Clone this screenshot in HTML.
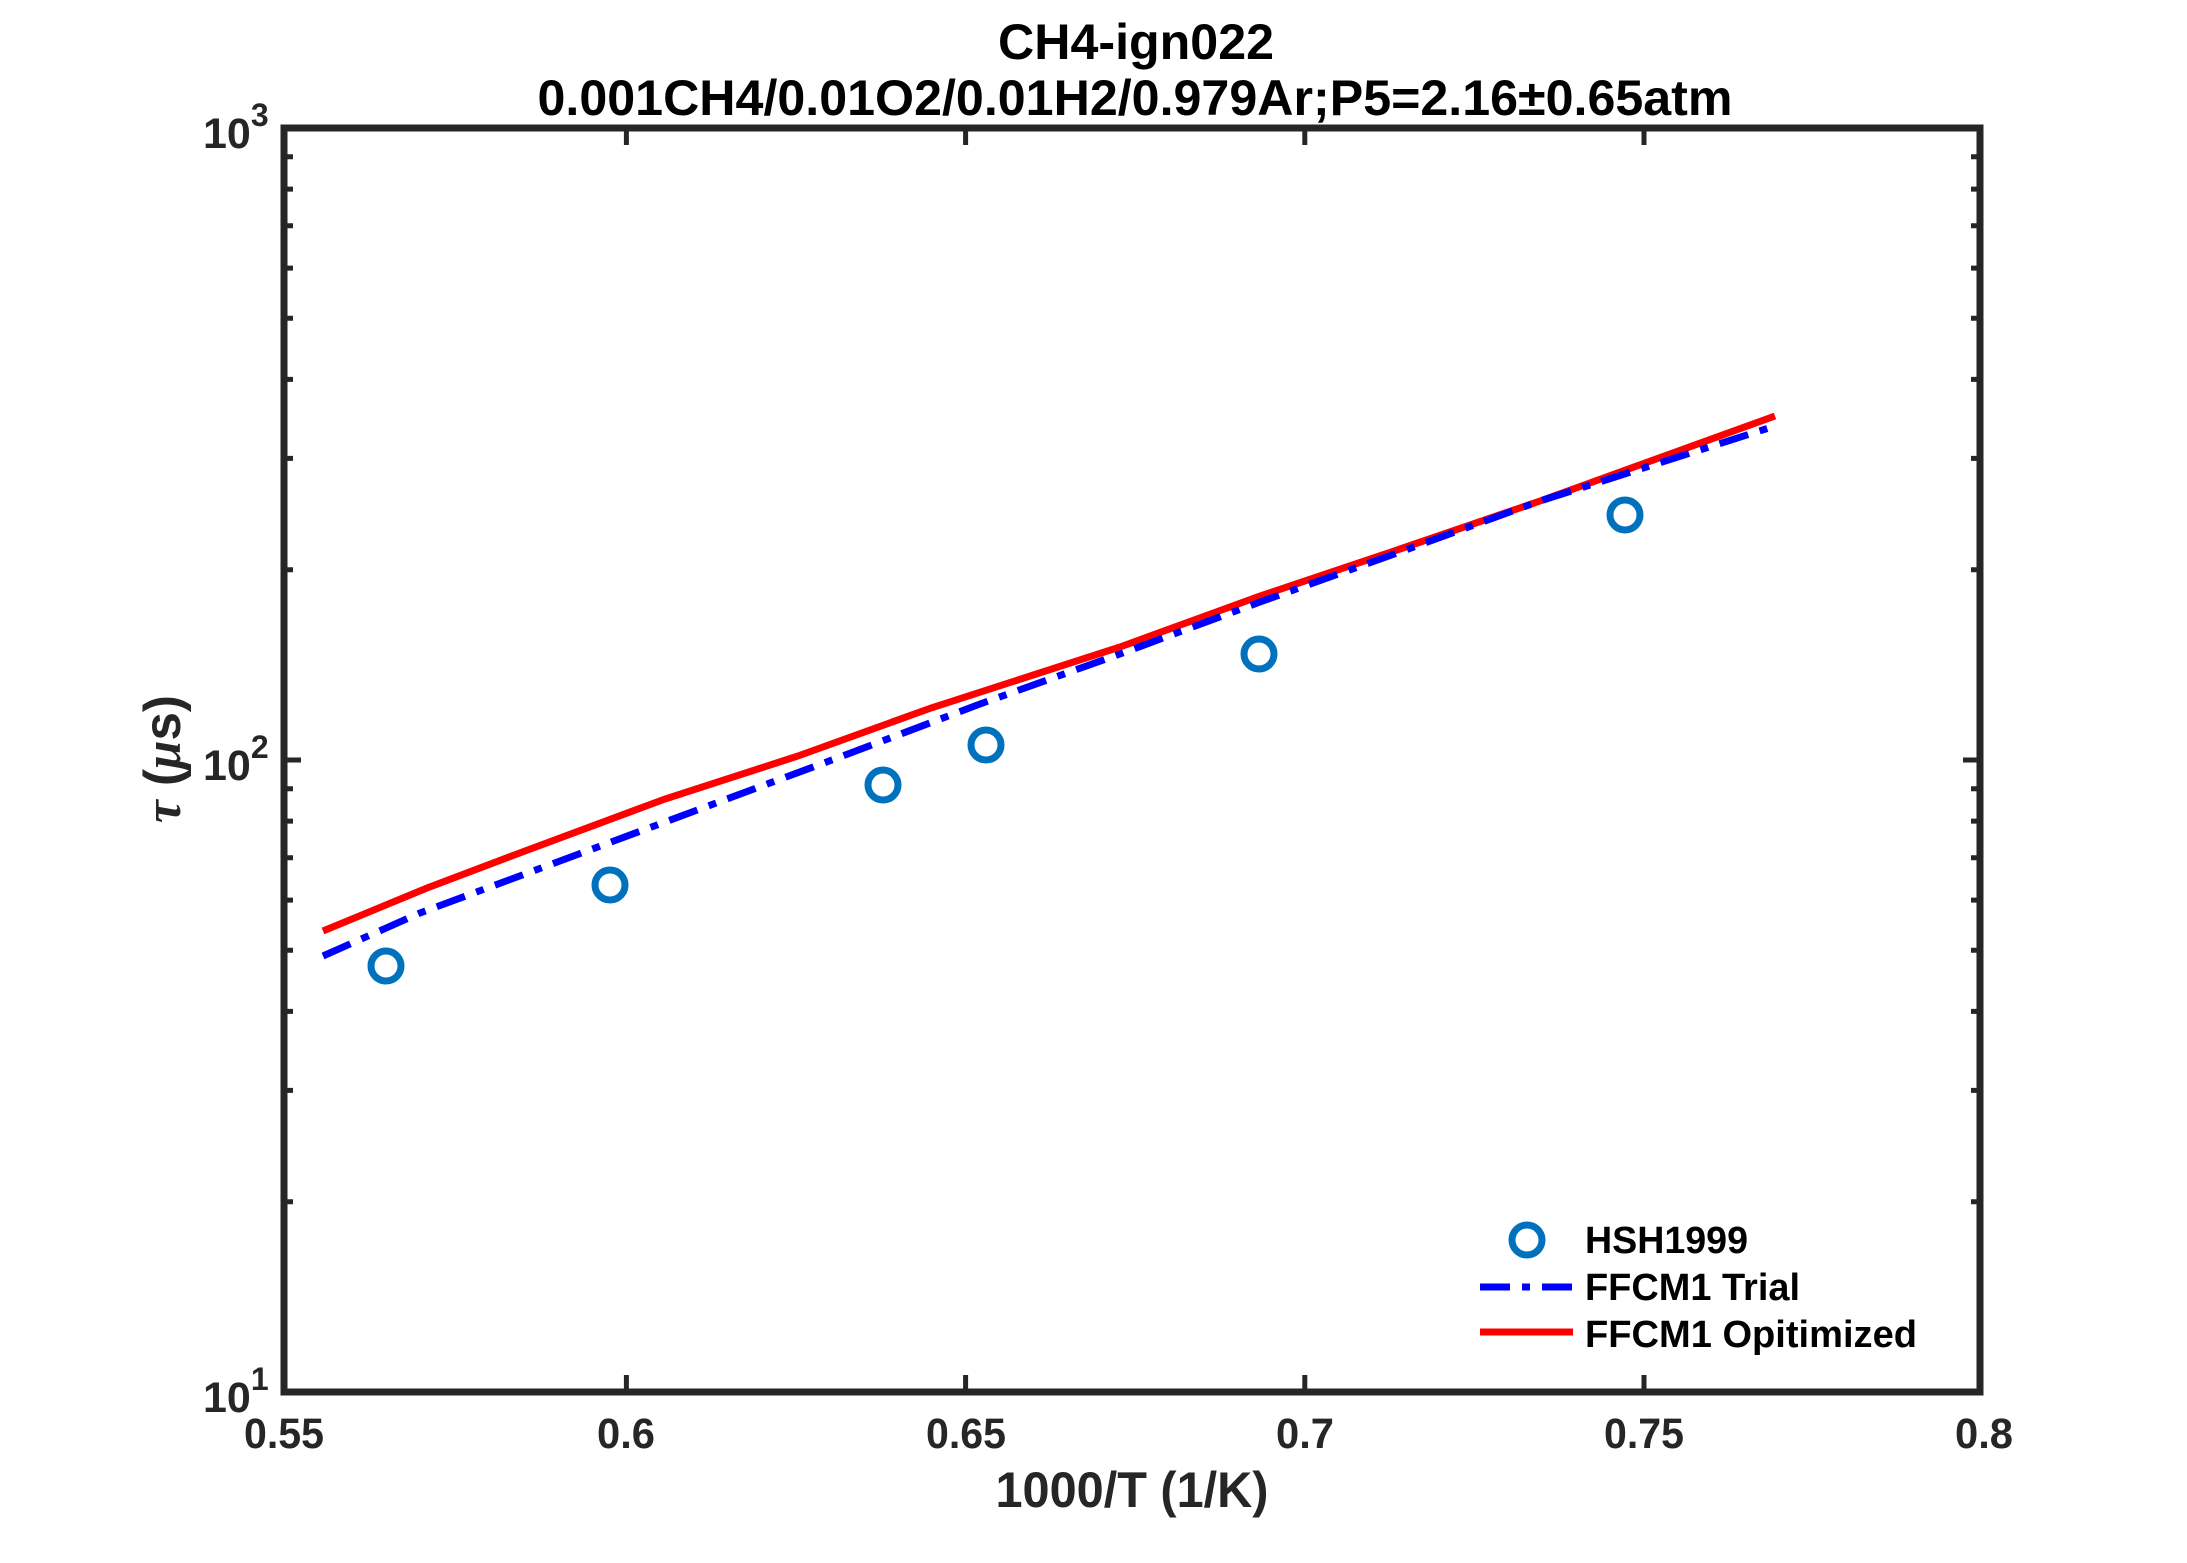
<!DOCTYPE html>
<html><head><meta charset="utf-8"><style>html,body{margin:0;padding:0;background:#fff}svg{display:block}</style></head>
<body>
<svg width="2187" height="1563" viewBox="0 0 2187 1563" xmlns="http://www.w3.org/2000/svg" font-family="'Liberation Sans', Arial, sans-serif" font-weight="bold">
<rect width="2187" height="1563" fill="#fff"/>
<text x="1136" y="59" font-size="50" text-anchor="middle" fill="#000" textLength="276" lengthAdjust="spacingAndGlyphs">CH4-ign022</text>
<text x="1135" y="115" font-size="50" text-anchor="middle" fill="#000" textLength="1195" lengthAdjust="spacingAndGlyphs">0.001CH4/0.01O2/0.01H2/0.979Ar;P5=2.16±0.65atm</text>
<g stroke="#262626" stroke-width="5" fill="none">
<path d="M626.4,1392v-17M965.6,1392v-17M1304.8,1392v-17M1644,1392v-17"/>
<path d="M626.4,128v17M965.6,128v17M1304.8,128v17M1644,128v17"/>
<path d="M284,760h17M1980,760h-17"/>
<path d="M284,1201.7h9M284,1090.4h9M284,1011.4h9M284,950.2h9M284,900.1h9M284,857.8h9M284,821.1h9M284,788.8h9M284,569.7h9M284,458.4h9M284,379.4h9M284,318.2h9M284,268.1h9M284,225.8h9M284,189.1h9M284,156.8h9"/>
<path d="M1980,1201.7h-9M1980,1090.4h-9M1980,1011.4h-9M1980,950.2h-9M1980,900.1h-9M1980,857.8h-9M1980,821.1h-9M1980,788.8h-9M1980,569.7h-9M1980,458.4h-9M1980,379.4h-9M1980,318.2h-9M1980,268.1h-9M1980,225.8h-9M1980,189.1h-9M1980,156.8h-9"/>
</g>
<polyline fill="none" stroke="#ff0000" stroke-width="7" points="323,931 427,888 525,851 665,799 798,756 931,708 1120,647 1260,596 1400,549 1540,501 1775,416"/>
<polyline fill="none" stroke="#0000ff" stroke-width="7" stroke-dasharray="30,12,8,12" points="323,956 420,913 560,861 700,809 840,757 980,704 1120,654 1260,602 1400,552 1540,501 1775,426"/>
<g fill="none" stroke="#0072bd" stroke-width="7">
<circle cx="386" cy="966" r="15"/><circle cx="610" cy="885" r="15"/><circle cx="883" cy="785" r="15"/><circle cx="986" cy="745" r="15"/><circle cx="1259" cy="654" r="15"/><circle cx="1625" cy="515" r="15"/>
<circle cx="1527" cy="1240" r="15"/>
</g>
<path d="M1480,1287h93" stroke="#0000ff" stroke-width="7" stroke-dasharray="30,12,8,12"/>
<path d="M1480,1332h93" stroke="#ff0000" stroke-width="7"/>
<g font-size="38" fill="#000">
<text x="1585" y="1253" textLength="163" lengthAdjust="spacingAndGlyphs">HSH1999</text>
<text x="1585" y="1300" textLength="215" lengthAdjust="spacingAndGlyphs">FFCM1 Trial</text>
<text x="1585" y="1347" textLength="332" lengthAdjust="spacingAndGlyphs">FFCM1 Opitimized</text>
</g>
<rect x="284" y="128" width="1696" height="1264" fill="none" stroke="#262626" stroke-width="7"/>
<g font-size="43" fill="#262626" text-anchor="middle">
<text x="284" y="1448" textLength="80" lengthAdjust="spacingAndGlyphs">0.55</text><text x="626" y="1448" textLength="58" lengthAdjust="spacingAndGlyphs">0.6</text><text x="966" y="1448" textLength="80" lengthAdjust="spacingAndGlyphs">0.65</text><text x="1305" y="1448" textLength="58" lengthAdjust="spacingAndGlyphs">0.7</text><text x="1644" y="1448" textLength="80" lengthAdjust="spacingAndGlyphs">0.75</text><text x="1984" y="1448" textLength="58" lengthAdjust="spacingAndGlyphs">0.8</text>
</g>
<g font-size="43" fill="#262626">
<text x="203" y="1412">10<tspan font-size="32" dy="-22">1</tspan></text>
<text x="203" y="780">10<tspan font-size="32" dy="-22">2</tspan></text>
<text x="203" y="148">10<tspan font-size="32" dy="-22">3</tspan></text>
</g>
<text x="1132" y="1507" font-size="50" text-anchor="middle" fill="#262626" textLength="273" lengthAdjust="spacingAndGlyphs">1000/T (1/K)</text>
<text transform="translate(180,759) rotate(-90)" font-size="52" text-anchor="middle" fill="#262626" textLength="128" lengthAdjust="spacingAndGlyphs"><tspan font-family="'Liberation Serif', serif" font-style="italic">τ</tspan> (<tspan font-family="'Liberation Serif', serif" font-style="italic">μ</tspan>s)</text>
</svg>
</body></html>
